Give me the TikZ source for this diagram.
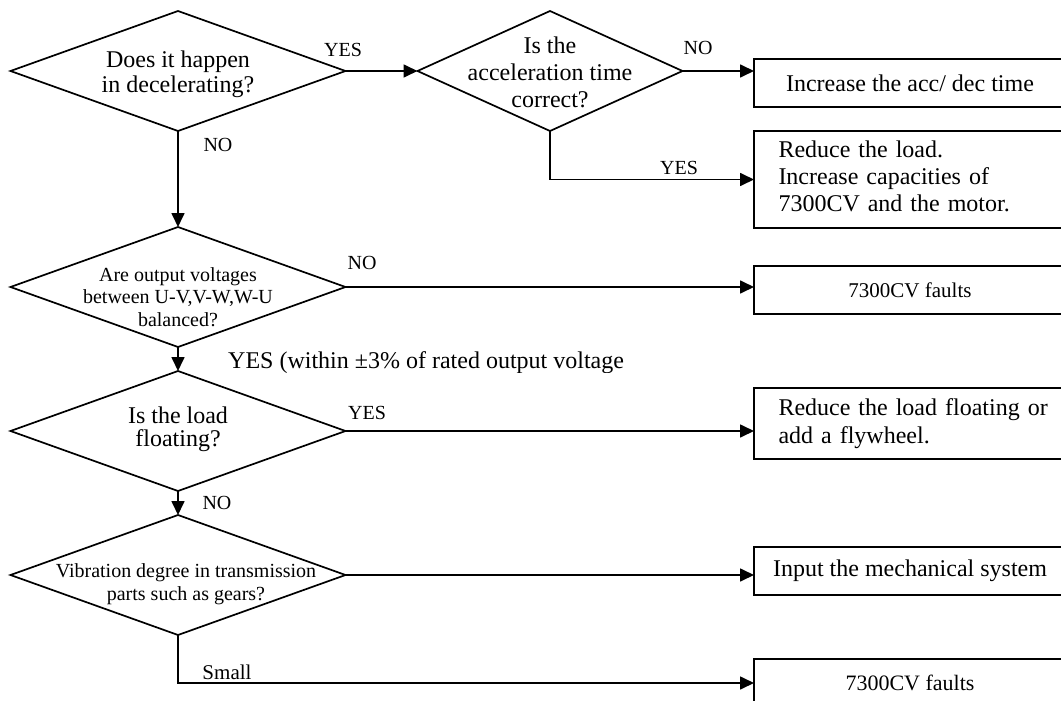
\documentclass[tikz,border=0pt]{standalone}
\usepackage{fontspec}
\setmainfont{Liberation Serif}
\usetikzlibrary{shapes.geometric,arrows.meta,calc,positioning}

\begin{document}
\begin{tikzpicture}[x=1pt,y=-1pt,
    decision/.style={draw,diamond,line width=1.7pt,inner sep=0pt,outer sep=0pt,
      minimum width=335pt,minimum height=120pt},
    result/.style={draw,rectangle,line width=1.7pt,inner sep=0pt,outer sep=0pt,
      minimum width=312pt,align=center,font=\fontsize{24}{27}\selectfont},
    notebox/.style={result,align=left,text width=287pt,inner xsep=12.5pt},
    flow/.style={-{Triangle[length=14pt,width=13pt]},line width=1.7pt},
    lbl/.style={inner sep=0pt,font=\fontsize{20}{22}\selectfont}]
      % Frame of the picture
      \useasboundingbox (0,0) rectangle (1061,701);
      \clip (0,0) rectangle (1061,701);
      % Decisions
      \node[decision,label={[align=center,yshift=-3pt,font=\fontsize{24}{25}\selectfont]center:Does it happen\\in decelerating?}] (d1) at (178,71) {};
      \node[decision,minimum width=265pt,label={[align=center,yshift=-1pt,font=\fontsize{24}{27}\selectfont]center:Is the\\acceleration time\\correct?}] (d2) at (550,71) {};
      \node[decision,label={[align=center,yshift=-10pt,font=\fontsize{20}{22.5}\selectfont]center:Are output voltages\\between U-V,V-W,W-U\\balanced?}] (d3) at (178,287) {};
      \node[decision,label={[align=center,yshift=2pt,font=\fontsize{24}{23}\selectfont]center:Is the load\\floating?}] (d4) at (178,431) {};
      \node[decision,label={[align=center,xshift=8pt,yshift=-9pt,font=\fontsize{20}{23}\selectfont]center:Vibration degree in transmission\\parts such as gears?}] (d5) at (178,575) {};
      % Results
      \node[result,minimum height=48pt] (b1) at (910,83) {Increase the acc/ dec time};
      \node[notebox,minimum height=97pt] (b2) at (910,179.5)
        {\begin{tabular}{@{\hspace{12pt}}l@{}}Reduce the load.\\Increase capacities of\\7300CV and the motor.\end{tabular}};
      \node[result,minimum height=48pt,font=\fontsize{21}{24}\selectfont] (b3) at (910,290) {7300CV faults};
      \node[notebox,minimum height=71pt,font=\fontsize{24}{28}\selectfont] (b4) at (910,423.5)
        {\begin{tabular}{@{\hspace{12pt}}l@{}}Reduce the load floating or\\add a flywheel.\end{tabular}};
      \node[result,minimum height=48pt] (b5) at (910,571) {Input the mechanical system};
      \node[result,minimum height=48pt,font=\fontsize{22}{24}\selectfont] (b6) at (910,683) {7300CV faults};
      % Connectors
      \draw[flow] (d1.east) -- (d2.west);
      \draw[flow] (d2.east) -- (d2.east -| b1.west);
      \draw[flow] (d2.south) |- (b2.west);
      \draw[flow] (d1.south) -- (d3.north);
      \draw[flow] (d3.east) -- (d3.east -| b3.west);
      \draw[flow] (d3.south) -- (d4.north);
      \draw[flow] (d4.east) -- (d4.east -| b4.west);
      \draw[flow] (d4.south) -- (d5.north);
      \draw[flow] (d5.east) -- (d5.east -| b5.west);
      \draw[flow] (d5.south) |- (b6.west);
      % Branch labels
      \node[lbl] (yes1) at (343,50) {YES};
      \node[lbl] (no1) at (218,145) {NO};
      \node[lbl] (no2) at (698,48) {NO};
      \node[lbl] (yes2) at (679,168) {YES};
      \node[lbl] (no3) at (362,263) {NO};
      \begin{scope}
        \clip (0,0) rectangle (1061,372);
        \node[lbl,anchor=west,font=\fontsize{24}{26}\selectfont] (yes3) at (228,363) {YES (within ±3\% of rated output voltage};
      \end{scope}
      \node[lbl] (yes4) at (367,413) {YES};
      \node[lbl] (no4) at (217,503) {NO};
      \node[lbl,font=\fontsize{21}{23}\selectfont] (small) at (227,672) {Small};
\end{tikzpicture}
\end{document}
